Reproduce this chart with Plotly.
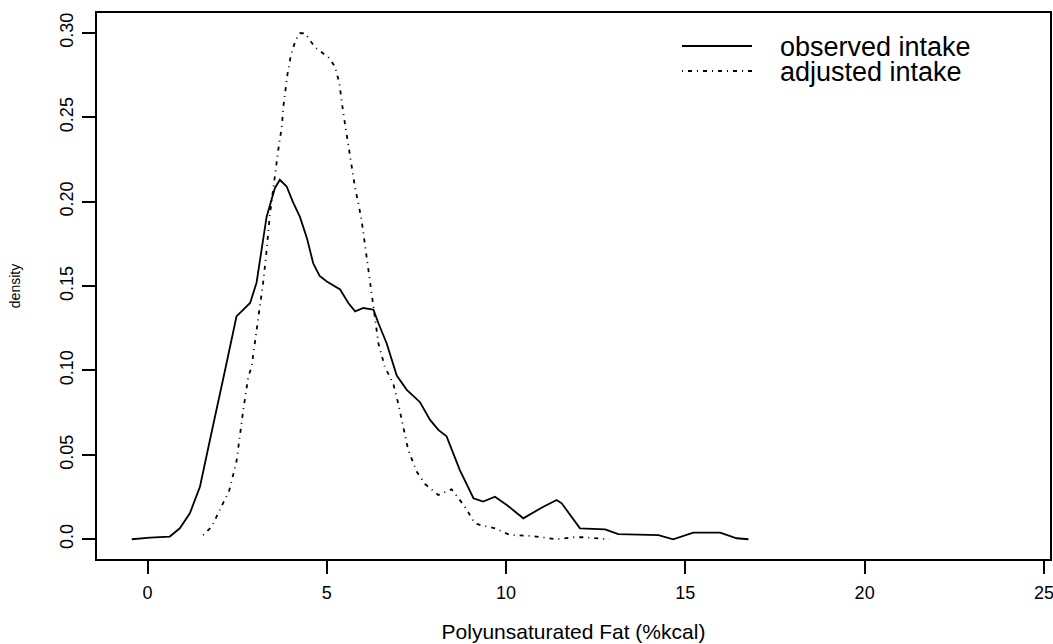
import plotly.graph_objects as go

# observed intake density curve
obs_x = [-0.44, 0.07, 0.62, 0.90, 1.18, 1.46, 1.74, 1.97, 2.20, 2.48, 2.67, 2.86, 3.04, 3.32, 3.55,
         3.69, 3.88, 4.05, 4.25, 4.45, 4.62, 4.80, 5.00, 5.20, 5.37, 5.60, 5.79, 6.02, 6.30, 6.44,
         6.67, 6.95, 7.23, 7.60, 7.88, 8.11, 8.34, 8.71, 9.09, 9.36, 9.69, 10.02, 10.48, 11.04,
         11.41, 11.55, 12.06, 12.76, 13.13, 14.25, 14.66, 15.22, 15.97, 16.43, 16.76]
obs_y = [0.0, 0.001, 0.0016, 0.0065, 0.0154, 0.031, 0.0588, 0.0825, 0.104, 0.132, 0.136, 0.140,
         0.152, 0.191, 0.208, 0.213, 0.209, 0.200, 0.191, 0.178, 0.1635, 0.156, 0.1527, 0.150,
         0.148, 0.140, 0.135, 0.137, 0.136, 0.128, 0.116, 0.097, 0.0885, 0.0812, 0.0707, 0.0648,
         0.061, 0.041, 0.0243, 0.0223, 0.0252, 0.0203, 0.0124, 0.0193, 0.0233, 0.0213, 0.0065,
         0.0059, 0.003, 0.0025, 0.0, 0.0039, 0.0039, 0.0006, 0.0]

# adjusted intake density curve
adj_x = [1.55, 1.79, 2.28, 2.39, 2.48, 2.67, 2.81, 2.90, 3.00, 3.23, 3.32, 3.41, 3.67, 3.74, 3.79,
         3.90, 4.00, 4.13, 4.25, 4.39, 4.67, 5.04, 5.23, 5.35, 5.46, 5.57, 5.67, 5.79, 5.88, 5.97,
         6.08, 6.18, 6.30, 6.44, 6.62, 6.85, 6.99, 7.13, 7.27, 7.51, 7.74, 8.11, 8.48, 8.85, 9.13,
         9.27, 9.69, 10.11, 10.71, 11.41, 11.87, 12.15, 12.88]
adj_y = [0.0025, 0.0075, 0.029, 0.038, 0.046, 0.0766, 0.0963, 0.102, 0.117, 0.153, 0.171, 0.192,
         0.2346, 0.2435, 0.2567, 0.2751, 0.287, 0.2958, 0.2998, 0.2998, 0.2915, 0.2856, 0.280,
         0.270, 0.2524, 0.238, 0.2243, 0.208, 0.199, 0.189, 0.172, 0.156, 0.138, 0.116, 0.102,
         0.0924, 0.0806, 0.0667, 0.0529, 0.040, 0.0327, 0.0262, 0.0296, 0.0193, 0.0095, 0.0085,
         0.0065, 0.0025, 0.002, 0.0, 0.0012, 0.0012, 0.0]

x_ticks = [0, 5, 10, 15, 20, 25]
y_ticks = [0.0, 0.05, 0.10, 0.15, 0.20, 0.25, 0.30]
y_tick_text = ["0.0", "0.05", "0.10", "0.15", "0.20", "0.25", "0.30"]
series_names = ["observed intake", "adjusted intake"]

FONT = "Arial, Liberation Sans, sans-serif"
ADJ_DASH = "1px,5px,4px,5px"
LW = 1.8

fig = go.Figure()
fig.add_trace(go.Scatter(x=obs_x, y=obs_y, mode="lines", name=series_names[0],
                         line=dict(color="black", width=LW), showlegend=False))
fig.add_trace(go.Scatter(x=adj_x, y=adj_y, mode="lines", name=series_names[1],
                         line=dict(color="black", width=LW, dash=ADJ_DASH), showlegend=False))

# legend drawn as keys + text (paper coordinates)
W, H = 1053, 644
L, R, T, B = 97, 3, 13, 85
pw, ph = W - L - R, H - T - B
def px(xp):
    return (xp - L) / pw
def py(yp):
    return 1 - (yp - T) / ph

legend_rows = [(46, dict(color="black", width=LW)),
               (71, dict(color="black", width=LW, dash=ADJ_DASH))]
for (yrow, ln), name in zip(legend_rows, series_names):
    fig.add_shape(type="line", xref="paper", yref="paper", x0=px(682), x1=px(752),
                  y0=py(yrow), y1=py(yrow), line=ln)
    fig.add_annotation(xref="paper", yref="paper", x=px(779), y=py(yrow + 1), text=name,
                       showarrow=False, xanchor="left", yanchor="middle", borderpad=0,
                       font=dict(family=FONT, size=27, color="black"))

fig.update_layout(
    width=W, height=H,
    margin=dict(l=L, r=R, t=T, b=B, autoexpand=False),
    paper_bgcolor="white", plot_bgcolor="white",
    font=dict(family=FONT, color="black"),
)
fig.update_xaxes(range=[-1.41, 25.17], tickvals=x_ticks, ticks="outside", ticklen=13,
                 tickwidth=1.5, tickcolor="black", showline=True, linecolor="black",
                 linewidth=1.5, mirror=True, showgrid=False, zeroline=False, automargin=False,
                 tickfont=dict(size=18), ticklabelstandoff=4, ticklabeloverflow="allow",
                 title=dict(text="Polyunsaturated Fat (%kcal)", font=dict(size=21), standoff=22))
fig.update_yaxes(range=[-0.0117, 0.3118], tickvals=y_ticks, ticktext=y_tick_text, tickangle=-90,
                 ticks="outside", ticklen=13, tickwidth=1.5, tickcolor="black", showline=True,
                 linecolor="black", linewidth=1.5, mirror=True, showgrid=False, zeroline=False,
                 automargin=False, tickfont=dict(size=18), ticklabelstandoff=2,
                 title=dict(text="density", font=dict(size=14), standoff=33))

fig.write_html("out.html", config={"displayModeBar": False},
               post_script="document.body.style.margin='0px';")
